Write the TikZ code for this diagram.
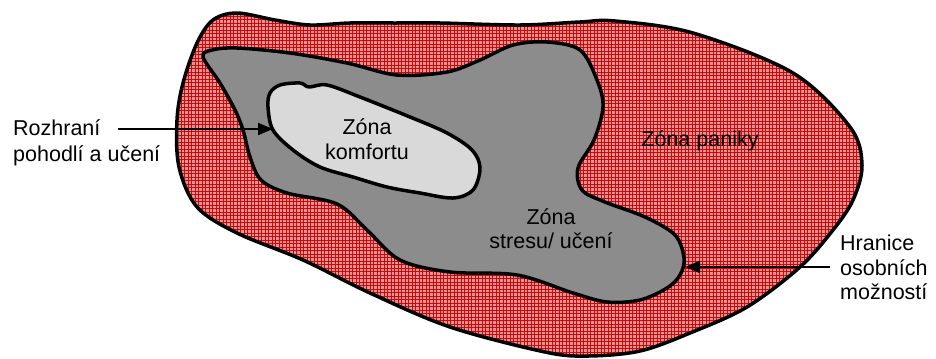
\documentclass[tikz,border=0pt]{standalone}
\usepackage{fontspec}
\setmainfont{Liberation Sans}
\usetikzlibrary{arrows.meta}
\definecolor{pinkbg}{HTML}{E39494}
\definecolor{gridred}{HTML}{CC0808}
\definecolor{stressgray}{HTML}{8C8C8C}
\definecolor{comfortgray}{HTML}{D9D9D9}
\tikzset{
  zoneline/.style={line width=3.5bp, line join=round},
  lbl/.style={inner sep=0pt, font=\fontsize{21.5bp}{25bp}\selectfont},
  arr/.style={line width=2bp, -{Triangle[length=15bp,width=12bp]}},
  gridline/.style={gridred, line width=1bp}
}
\begin{document}
\begin{tikzpicture}[x=1bp,y=-1bp]
\useasboundingbox (0,0) rectangle (936,358);
% panic zone (outer)
\draw[zoneline, fill=pinkbg, path picture={
    \foreach \x in {170.5,174,...,875} \draw[gridline] (\x,5) -- (\x,360);
    \foreach \y in {5.5,9,...,360} \draw[gridline] (170,\y) -- (875,\y);
  }]
  plot[smooth cycle, tension=0.55] coordinates {
  (213,20) (237,13) (275,20) (310,25) (350,23) (395,23) (440,23) (520,25)
  (580,22) (615,21) (693,33) (793,73) (850,127) (862,165) (853,200)
  (833,230) (800,267) (747,307) (690,333) (640,351) (588,356) (545,352)
  (450,327) (370,293) (303,260) (237,233) (197,207) (179,167) (177,120)
  (183,83) (197,43)};
% stress / learning zone
\draw[zoneline, fill=stressgray]
  plot[smooth cycle, tension=0.55] coordinates {
  (203,57) (212,50) (237,48) (290,53) (347,63) (397,75) (447,72) (480,60)
  (513,45) (547,42) (580,50) (597,80) (603,107) (594,140) (578,168)
  (582,190) (605,202) (645,217) (675,235) (684,258) (680,275) (667,288)
  (640,300) (607,302) (573,293) (517,275) (450,272) (400,260) (367,230)
  (337,204) (287,193) (261,180) (250,157) (243,130) (235,110) (220,83)};
% comfort zone
\draw[zoneline, fill=comfortgray]
  plot[smooth cycle, tension=0.55] coordinates {
  (270,93) (280,85) (300,83) (309,87) (327,85) (360,97) (410,117)
  (447,133) (472,150) (480,168) (473,190) (453,198) (420,193) (387,187)
  (353,177) (320,167) (293,150) (273,130) (268,107)};
% labels
\node[lbl, anchor=base] (k1) at (367,134) {Zóna};
\node[lbl, anchor=base] (k2) at (367,159) {komfortu};
\node[lbl, anchor=base] (s1) at (551,224) {Zóna};
\node[lbl, anchor=base] (s2) at (551,248) {stresu/ učení};
\node[lbl, anchor=base] (p1) at (700,146) {Zóna paniky};
\node[lbl, anchor=base west] (r1) at (13,135) {Rozhraní};
\node[lbl, anchor=base west] (r2) at (13,161) {pohodlí a učení};
\node[lbl, anchor=base west] (h1) at (840,250) {Hranice};
\node[lbl, anchor=base west] (h2) at (840,275) {osobních};
\node[lbl, anchor=base west] (h3) at (840,299) {možností};
% connectors
\coordinate (a1s) at (118,129);
\coordinate (a1e) at (273,129);
\coordinate (a2s) at (830,267);
\coordinate (a2e) at (685,267);
\draw[arr] (a1s) -- (a1e);
\draw[arr] (a2s) -- (a2e);
\end{tikzpicture}
\end{document}
